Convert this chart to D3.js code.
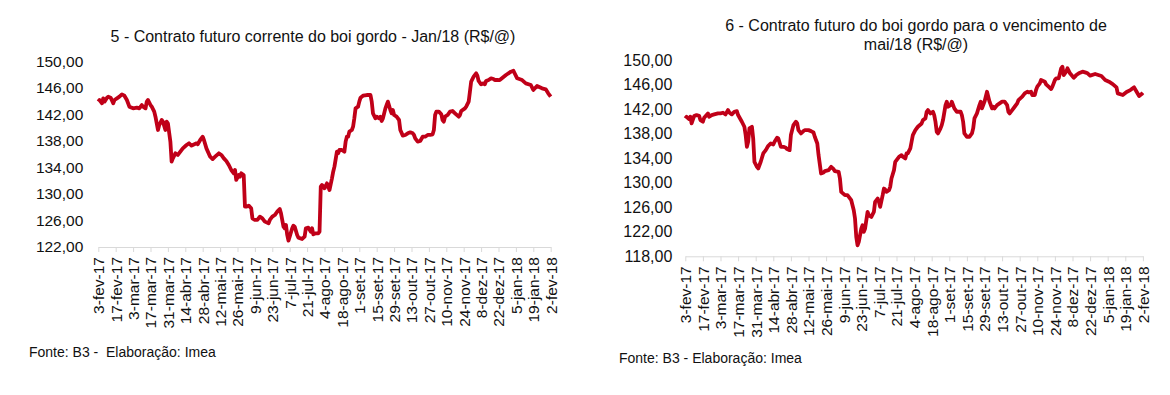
<!DOCTYPE html>
<html lang="pt-BR">
<head>
<meta charset="utf-8">
<script src="https://cdn.jsdelivr.net/npm/d3@7"></script>
<style>
  body { margin: 0; background: #fff; }
  svg text { font-family: "Liberation Sans", Arial, Helvetica, sans-serif; fill: #111; }
</style>
</head>
<body>
<svg id="chart" width="1170" height="395"></svg>
<script>
// 1: DATA
const tickLabels = ["3-fev-17", "17-fev-17", "3-mar-17", "17-mar-17", "31-mar-17", "14-abr-17", "28-abr-17",
    "12-mai-17", "26-mai-17", "9-jun-17", "23-jun-17", "7-jul-17", "21-jul-17", "4-ago-17", "18-ago-17",
    "1-set-17", "15-set-17", "29-set-17", "13-out-17", "27-out-17", "10-nov-17", "24-nov-17", "8-dez-17",
    "22-dez-17", "5-jan-18", "19-jan-18", "2-fev-18"];

const yTicksJan = [122, 126, 130, 134, 138, 142, 146, 150];
const yTicksMai = [118, 122, 126, 130, 134, 138, 142, 146, 150];

// dias corridos desde 3-fev-17 / preço (R$/@)
const diasJan = [0, 1, 3, 4, 5, 7, 8, 10, 12, 13, 15, 17, 19, 21, 23, 25, 28, 31, 33, 35, 36, 38, 39, 40, 42, 43, 45, 46, 48, 49,
    51, 52, 54, 55, 56, 58, 59, 60, 62, 64, 66, 68, 71, 73, 75, 76, 79, 80, 82, 84, 85, 87, 90, 92, 94, 97, 99, 101, 103, 105,
    107, 109, 110, 111, 113, 114, 115, 117, 118, 119, 121, 123, 124, 126, 128, 130, 132, 134, 137, 138, 140, 142, 144, 146, 147, 149,
    150, 151, 152, 153, 154, 156, 157, 158, 160, 161, 164, 166, 167, 169, 171, 172, 173, 175, 177, 178, 179, 180, 182, 184, 185, 186,
    188, 189, 190, 192, 193, 194, 196, 198, 199, 200, 201, 202, 204, 205, 206, 207, 209, 210, 211, 213, 216, 219, 220, 221, 223, 224,
    226, 227, 228, 229, 231, 232, 233, 235, 236, 237, 238, 240, 242, 243, 245, 247, 249, 251, 253, 254, 255, 257, 259, 261, 263, 265,
    267, 269, 270, 271, 272, 274, 276, 277, 278, 279, 281, 283, 285, 287, 290, 291, 292, 295, 296, 298, 299, 300, 302, 304, 305, 306,
    308, 310, 311, 312, 314, 316, 318, 319, 321, 323, 328, 332, 334, 337, 341, 344, 348, 350, 353, 357, 360, 362, 364];
const precoJan = [143.94, 144.19, 143.69, 144.44, 143.94, 144.54, 144.69, 144.54, 143.69, 144.19, 144.44, 144.69, 145.04, 144.84,
    144.19, 143.18, 142.93, 143.03, 142.93, 143.43, 143.18, 142.93, 143.94, 144.19, 143.43, 143.18, 142.43, 141.67, 139.66, 140.41,
    141.17, 140.92, 139.66, 140.92, 140.67, 137.9, 134.88, 135.38, 136.14, 135.89, 136.39, 136.89, 137.4, 137.65, 137.3, 137.4,
    137.65, 137.5, 138.15, 138.65, 138.15, 136.89, 135.63, 135.28, 135.63, 136.14, 135.89, 135.38, 134.98, 134.38, 133.62, 133.12,
    133.62, 132.12, 132.87, 132.62, 133.12, 132.87, 128.09, 128.09, 128.24, 127.84, 126.33, 126.08, 126.08, 126.58, 126.33, 125.83,
    125.58, 126.08, 126.58, 126.83, 127.34, 127.74, 127.08, 125.07, 124.82, 125.32, 123.82, 122.96, 123.56, 124.82, 125.22, 125.07,
    123.81, 123.41, 123.21, 123.56, 124.82, 124.92, 124.32, 124.82, 123.91, 124.06, 124.06, 124.32, 131.11, 131.36, 130.86, 131.61,
    131.11, 130.6, 132.37, 133.37, 134.13, 136.39, 136.14, 136.64, 136.64, 136.39, 137.9, 138.65, 138.65, 139.41, 139.66, 140.16,
    141.42, 142.93, 143.18, 143.94, 144.54, 144.84, 144.94, 144.94, 143.94, 142.18, 141.42, 141.67, 141.42, 141.67, 141.02, 141.42,
    142.93, 143.43, 143.94, 142.68, 142.18, 142.68, 141.92, 141.67, 141.17, 139.66, 138.81, 138.91, 139.16, 139.31, 139.16, 138.91,
    138.4, 137.9, 138.0, 138.65, 138.65, 138.91, 138.91, 139.01, 139.66, 141.92, 142.43, 142.43, 142.03, 141.17, 140.92, 141.67,
    141.92, 142.43, 142.53, 142.18, 141.67, 141.92, 142.53, 142.93, 143.18, 143.94, 145.45, 146.96, 147.71, 148.21, 147.86, 147.06,
    146.55, 146.7, 146.55, 147.06, 147.21, 147.46, 147.36, 147.21, 147.21, 147.2, 147.96, 148.46, 148.6, 147.46, 147.2, 146.7,
    146.45, 145.7, 146.3, 145.95, 145.8, 145.2, 144.7];

const diasMai = [0, 1, 3, 4, 5, 7, 9, 11, 12, 14, 15, 18, 19, 21, 23, 26, 28, 30, 32, 34, 35, 37, 39, 41, 42, 45, 47, 48, 49, 50,
    51, 53, 54, 55, 57, 58, 60, 62, 64, 66, 68, 70, 71, 73, 74, 76, 78, 80, 81, 83, 84, 86, 88, 89, 90, 92, 94, 95, 98, 100,
    102, 103, 105, 106, 108, 110, 111, 114, 116, 118, 119, 122, 123, 124, 127, 129, 132, 133, 134, 135, 136, 137, 138, 140, 141, 142,
    143, 145, 146, 148, 150, 151, 153, 154, 155, 157, 158, 159, 160, 162, 163, 164, 166, 167, 170, 172, 173, 175, 176, 177, 179, 180,
    181, 183, 185, 188, 189, 191, 192, 193, 195, 197, 198, 199, 200, 201, 203, 204, 205, 207, 208, 209, 211, 212, 214, 216, 219, 220,
    221, 222, 224, 226, 228, 229, 230, 232, 234, 235, 236, 238, 240, 241, 242, 244, 245, 246, 248, 250, 252, 254, 256, 257, 258, 260,
    262, 264, 265, 268, 270, 272, 273, 275, 276, 278, 279, 280, 282, 283, 286, 287, 289, 291, 292, 293, 294, 295, 297, 298, 299, 300,
    301, 303, 304, 306, 309, 310, 311, 313, 316, 318, 320, 322, 326, 331, 334, 337, 340, 343, 344, 348, 351, 354, 357, 359, 361, 363, 364];
const precoMai = [140.5, 140.78, 140.4, 140.78, 139.69, 140.89, 141.06, 140.95, 140.24, 139.97, 140.62, 141.33, 140.78, 141.06,
    141.17, 141.33, 141.33, 141.44, 141.17, 141.88, 141.49, 141.17, 141.6, 141.71, 141.06, 139.97, 139.15, 137.79, 135.88, 136.7,
    138.88, 139.15, 137.24, 133.43, 132.61, 132.34, 133.43, 134.79, 135.33, 136.04, 136.42, 136.26, 136.7, 137.35, 137.24, 135.88,
    135.88, 135.72, 135.5, 135.33, 137.79, 139.42, 139.97, 139.69, 138.6, 138.06, 138.44, 138.6, 138.6, 138.44, 138.22, 137.52,
    136.42, 134.52, 131.52, 131.68, 131.9, 132.07, 132.61, 132.23, 131.9, 131.79, 130.7, 128.52, 127.98, 127.98, 127.16, 126.34,
    125.52, 124.16, 121.16, 119.8, 120.35, 122.53, 123.07, 121.98, 122.53, 125.25, 124.71, 124.43, 125.25, 126.89, 127.43, 126.89,
    126.07, 127.98, 129.07, 128.9, 128.52, 128.79, 129.34, 130.7, 132.07, 133.43, 134.25, 134.52, 134.25, 133.97, 134.79, 134.79,
    135.61, 136.7, 137.79, 138.6, 139.15, 139.69, 140.24, 140.51, 141.6, 141.88, 141.33, 141.6, 141.06, 139.97, 138.33, 138.06,
    138.88, 139.42, 140.24, 142.69, 143.24, 142.42, 142.69, 143.24, 142.15, 141.6, 141.6, 141.06, 139.97, 138.06, 137.52, 137.52,
    138.06, 138.88, 140.51, 141.33, 142.69, 143.24, 142.15, 143.24, 144.87, 144.06, 143.24, 142.15, 142.42, 142.15, 142.69, 142.97,
    143.24, 143.24, 142.69, 141.6, 141.33, 141.88, 142.42, 142.97, 143.51, 144.06, 144.6, 144.87, 144.76, 144.87, 144.33, 144.33,
    145.15, 145.69, 146.23, 146.78, 146.51, 146.07, 145.69, 145.31, 145.69, 146.23, 146.78, 147.05, 147.05, 147.87, 148.69, 148.96,
    147.6, 148.14, 148.69, 147.87, 147.16, 147.33, 147.6, 147.87, 148.14, 148.03, 147.87, 147.49, 147.76, 147.43, 146.78, 146.5,
    146.12, 145.58, 144.6, 144.33, 144.82, 145.14, 145.58, 144.87, 144.16, 144.49, 144.7];

// 2: LOCALE (pt-BR month names and decimal comma)
const ptTime = d3.timeFormatLocale({
    dateTime: "%d/%m/%Y %H:%M:%S", date: "%d/%m/%Y", time: "%H:%M:%S", periods: ["AM", "PM"],
    days: ["domingo", "segunda", "terça", "quarta", "quinta", "sexta", "sábado"],
    shortDays: ["dom", "seg", "ter", "qua", "qui", "sex", "sáb"],
    months: ["janeiro", "fevereiro", "março", "abril", "maio", "junho", "julho", "agosto", "setembro", "outubro", "novembro", "dezembro"],
    shortMonths: ["jan", "fev", "mar", "abr", "mai", "jun", "jul", "ago", "set", "out", "nov", "dez"]
});
const parseTick = ptTime.parse("%d-%b-%y");
const fmtValue = d3.formatLocale({ decimal: ",", thousands: ".", grouping: [3], currency: ["R$", ""] }).format(".2f");

const tickDates = tickLabels.map(parseTick);
const start = tickDates[0];

const svg = d3.select("#chart");

// 3: ONE CHART
function drawChart(opt) {
    const data = opt.dias.map((d, i) => ({ date: d3.timeDay.offset(start, d), v: opt.preco[i] }));

    const x = d3.scaleTime()
        .domain([start, tickDates[tickDates.length - 1]])
        .range(opt.xRange);

    const y = d3.scaleLinear()
        .domain(d3.extent(opt.yTicks))
        .range(opt.yRange);

    // x axis
    const gx = svg.append("g")
        .attr("transform", `translate(0,${opt.yRange[0]})`)
        .call(d3.axisBottom(x)
            .tickValues(tickDates)
            .tickSize(5)
            .tickSizeOuter(0)
            .tickFormat((d, i) => tickLabels[i]));
    gx.select(".domain").attr("stroke", "#d9d9d9");
    gx.selectAll(".tick line").attr("stroke", "#d9d9d9");
    gx.selectAll("text")
        .style("font-size", "15.5px")
        .attr("text-anchor", "end")
        .attr("transform", "rotate(-90)")
        .attr("x", -10)
        .attr("y", 0)
        .attr("dy", "0.35em");

    // y axis
    const gy = svg.append("g")
        .attr("transform", `translate(${opt.xRange[0]},0)`)
        .call(d3.axisLeft(y)
            .tickValues(opt.yTicks)
            .tickSize(0)
            .tickPadding(opt.yPad)
            .tickFormat(fmtValue));
    gy.select(".domain").remove();
    gy.selectAll("text").style("font-size", opt.yFont);

    // line
    svg.append("path")
        .datum(data)
        .attr("fill", "none")
        .attr("stroke", "#c00018")
        .attr("stroke-width", 3.8)
        .attr("stroke-linejoin", "round")
        .attr("d", d3.line()
            .x(d => x(d.date))
            .y(d => y(d.v)));

    // title
    const t = svg.append("text")
        .attr("x", opt.titleX)
        .attr("text-anchor", "middle")
        .style("font-size", "16px");
    opt.title.forEach((line, i) => {
        t.append("tspan")
            .attr("x", opt.titleX)
            .attr("y", opt.titleY + i * 19)
            .text(line);
    });

    // source
    svg.append("text")
        .attr("x", opt.srcX)
        .attr("y", opt.srcY)
        .style("font-size", "14px")
        .style("white-space", "pre")
        .text(opt.source);
}

drawChart({
    dias: diasJan, preco: precoJan, yTicks: yTicksJan,
    xRange: [98.3, 550.7], yRange: [247, 61.5], yPad: 15, yFont: "15.5px",
    title: ["5 - Contrato futuro corrente do boi gordo - Jan/18 (R$/@)"], titleX: 313, titleY: 42,
    source: "Fonte: B3 -  Elaboração: Imea", srcX: 29, srcY: 357
});

drawChart({
    dias: diasMai, preco: precoMai, yTicks: yTicksMai,
    xRange: [685.3, 1142.9], yRange: [256.3, 60.3], yPad: 13, yFont: "16px",
    title: ["6 - Contrato futuro do boi gordo para o vencimento de", "mai/18 (R$/@)"], titleX: 916, titleY: 31,
    source: "Fonte: B3 - Elaboração: Imea", srcX: 619, srcY: 363
});
</script>
</body>
</html>
